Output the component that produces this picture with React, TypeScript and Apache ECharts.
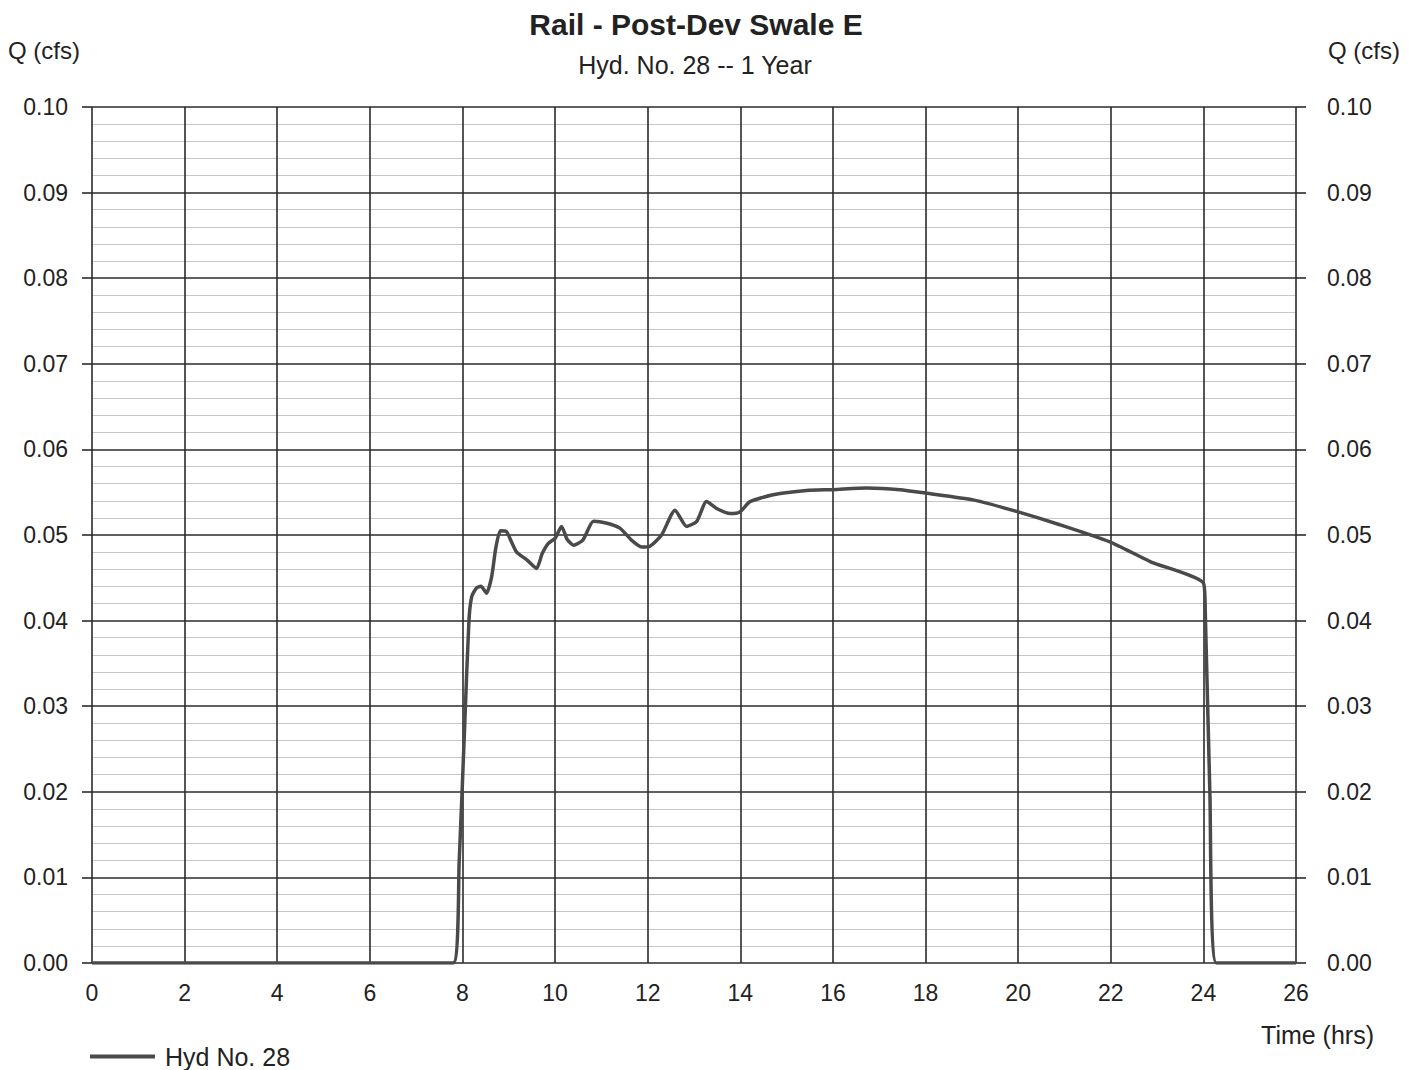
import React, { useEffect, useRef } from "react";
import * as echarts from "echarts";

// Hydrograph ordinates: time (hrs) and discharge Q (cfs)
const timeHrs = [
  0, 7.8, 7.93, 8.05, 8.14, 8.2, 8.3, 8.4, 8.52, 8.63, 8.72, 8.82, 8.95, 9.05,
  9.17, 9.39, 9.6, 9.72, 9.85, 10.0, 10.14, 10.26, 10.4, 10.6, 10.83, 11.1,
  11.4, 11.65, 11.87, 12.05, 12.3, 12.59, 12.84, 13.06, 13.27, 13.49, 13.78,
  13.99, 14.21, 14.71, 15.43, 16.0, 16.73, 17.45, 18.0, 19.03, 20.0, 20.9,
  21.98, 22.85, 24.0, 24.04, 24.14, 24.28, 26,
];
const flowCfs = [
  0, 0, 0.012, 0.028, 0.04, 0.0428, 0.0438, 0.044, 0.0432, 0.0451, 0.0485,
  0.0505, 0.0504, 0.0493, 0.048, 0.0471, 0.0461, 0.0478, 0.049, 0.0496, 0.051,
  0.0495, 0.0488, 0.0494, 0.0516, 0.0514, 0.0508, 0.0494, 0.0486, 0.0487,
  0.05, 0.0529, 0.051, 0.0516, 0.0539, 0.0531, 0.0525, 0.0527, 0.0539, 0.0547,
  0.0552, 0.0553, 0.0555, 0.0553, 0.0549, 0.0541, 0.0527, 0.0512, 0.0492,
  0.0469, 0.0444, 0.0412, 0.0199, 0, 0,
];

const chartTitle = "Rail - Post-Dev Swale E";
const chartSubtitle = "Hyd. No. 28 -- 1 Year";
const seriesName = "Hyd No. 28";
const yAxisName = "Q (cfs)";
const xAxisName = "Time (hrs)";

const FONT = "'Liberation Sans', Arial, sans-serif";
const MAJOR = "#2b2b2b";
const MINOR = "#c6c6c6";
const CURVE = "#4a4a4a";

export default function App() {
  const ref = useRef<HTMLDivElement>(null);

  useEffect(() => {
    if (!ref.current) return;
    const chart = echarts.init(ref.current, undefined, { renderer: "svg" });
    const data = timeHrs.map((t, i) => [t, flowCfs[i]]);
    const labelStyle = { color: "#222", fontSize: 23, fontFamily: FONT };
    const text = (
      s: string,
      x: number,
      y: number,
      align: string,
      font: string
    ) => ({
      type: "text",
      x,
      y,
      style: {
        text: s,
        fill: "#222",
        font,
        textAlign: align,
        textVerticalAlign: "middle",
      },
    });

    chart.setOption({
      animation: false,
      backgroundColor: "#ffffff",
      grid: { left: 92, right: 122, top: 107, bottom: 107, containLabel: false },
      graphic: [
        text(chartTitle, 696, 24, "center", `bold 30px ${FONT}`),
        text(chartSubtitle, 695, 65, "center", `25px ${FONT}`),
        text(yAxisName, 8, 50, "left", `24px ${FONT}`),
        text(yAxisName, 1400, 50, "right", `24px ${FONT}`),
        text(xAxisName, 1374, 1035, "right", `25px ${FONT}`),
      ],
      legend: {
        left: 90,
        top: 1044,
        padding: 0,
        icon: "rect",
        itemWidth: 65,
        itemHeight: 4,
        itemGap: 10,
        textStyle: {
          color: "#222",
          fontSize: 25,
          lineHeight: 24,
          padding: [0, 0, 0, 5],
          fontFamily: FONT,
        },
        data: [seriesName],
      },
      xAxis: {
        type: "value",
        min: 0,
        max: 26,
        interval: 2,
        axisLine: { show: false },
        axisTick: { show: false },
        axisLabel: { ...labelStyle, margin: 18 },
        splitLine: { show: true, lineStyle: { color: MAJOR, width: 1.6 } },
      },
      yAxis: [
        {
          type: "value",
          position: "left",
          min: 0,
          max: 0.1,
          interval: 0.01,
          axisLine: { show: false },
          axisTick: {
            show: true,
            inside: false,
            length: 10,
            lineStyle: { color: MAJOR, width: 1.6 },
          },
          axisLabel: {
            ...labelStyle,
            margin: 24,
            formatter: (v: number) => v.toFixed(2),
          },
          splitLine: { show: true, lineStyle: { color: MAJOR, width: 1.6 } },
          minorTick: { show: false, splitNumber: 5 },
          minorSplitLine: { show: true, lineStyle: { color: MINOR, width: 1 } },
        },
        {
          type: "value",
          position: "right",
          min: 0,
          max: 0.1,
          interval: 0.01,
          axisLine: { show: false },
          axisTick: {
            show: true,
            inside: false,
            length: 10,
            lineStyle: { color: MAJOR, width: 1.6 },
          },
          axisLabel: {
            ...labelStyle,
            margin: 31,
            formatter: (v: number) => v.toFixed(2),
          },
          splitLine: { show: false },
        },
      ],
      series: [
        {
          name: seriesName,
          type: "line",
          data,
          yAxisIndex: 0,
          showSymbol: false,
          smooth: 0.2,
          lineStyle: { color: CURVE, width: 3.5 },
          itemStyle: { color: CURVE },
          z: 5,
        },
      ],
    });

    return () => chart.dispose();
  }, []);

  return (
    <div
      ref={ref}
      style={{ width: 1418, height: 1070, position: "absolute", left: 0, top: 0 }}
    />
  );
}
